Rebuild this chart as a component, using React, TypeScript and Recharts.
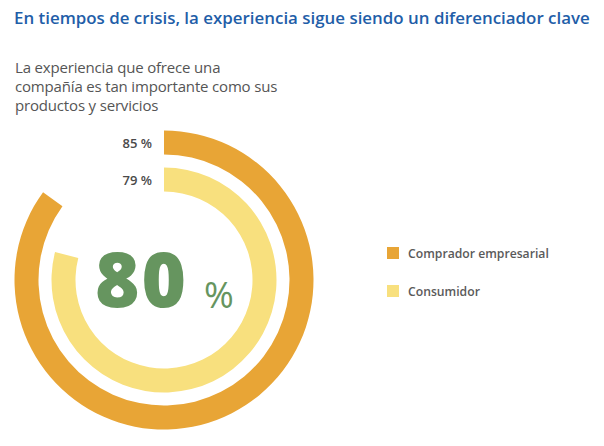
import React from 'react';
import { RadialBarChart, RadialBar, PolarAngleAxis, Cell, LabelList, Legend } from 'recharts';

// Values (inner ring first)
const segments = ['Consumidor', 'Comprador empresarial'];
const shares = [79, 85];
const colors = ['#F8E07E', '#E8A536'];
const legendOrder = ['Comprador empresarial', 'Consumidor'];
const headline = 80;

const data = segments.map((name, i) => ({ name, value: shares[i] }));

const FONT = '"Open Sans", "Noto Sans", sans-serif';

// label written just left of where each ring starts (12 o'clock)
const renderStartLabel = (props: any) => {
    const { viewBox, value } = props;
    if (!viewBox) return null;
    const r = (viewBox.innerRadius + viewBox.outerRadius) / 2;
    return (
        <text
            x={viewBox.cx - 12}
            y={viewBox.cy - r}
            textAnchor="end"
            dominantBaseline="central"
            fontFamily={FONT}
            fontWeight={600}
            fontSize={13}
            fill="#4a4a4a"
        >
            {value} %
        </text>
    );
};

const renderLegend = () => (
    <div style={{ fontFamily: FONT }}>
        {legendOrder.map((name) => {
            const idx = segments.indexOf(name);
            return (
                <div key={name} style={{ display: 'flex', alignItems: 'center', height: 38 }}>
                    <span style={{ width: 12, height: 12, background: colors[idx], marginRight: 9 }} />
                    <span style={{ fontSize: 12.2, fontWeight: 600, color: '#5a5a5a' }}>{name}</span>
                </div>
            );
        })}
    </div>
);

const App: React.FC = () => {
    return (
        <div style={{ position: 'absolute', left: 0, top: 0, width: 604, height: 446, background: '#fff', fontFamily: FONT }}>
            <div style={{ position: 'absolute', left: 14, top: 6, fontSize: 16.9, fontWeight: 600, color: '#1F5EA8', whiteSpace: 'nowrap' }}>
                En tiempos de crisis, la experiencia sigue siendo un diferenciador clave
            </div>
            <div style={{ position: 'absolute', left: 15, top: 58, fontSize: 15, lineHeight: '19px', letterSpacing: -0.17, color: '#555' }}>
                La experiencia que ofrece una<br />
                compañía es tan importante como sus<br />
                productos y servicios
            </div>

            <RadialBarChart
                width={604}
                height={446}
                cx={164}
                cy={280}
                innerRadius={81.5}
                outerRadius={155.5}
                startAngle={90}
                endAngle={-270}
                data={data}
                style={{ position: 'absolute', left: 0, top: 0 }}
            >
                <PolarAngleAxis type="number" domain={[0, 100]} tick={false} axisLine={false} />
                <RadialBar dataKey="value" barSize={24} isAnimationActive={false}>
                    {data.map((d, i) => (
                        <Cell key={d.name} fill={colors[i]} />
                    ))}
                    <LabelList dataKey="value" content={renderStartLabel} />
                </RadialBar>
                <Legend
                    content={renderLegend}
                    wrapperStyle={{ position: 'absolute', left: 387, top: 234, width: 200 }}
                />
            </RadialBarChart>

            <div style={{ position: 'absolute', left: 95, top: 226, fontSize: 76, fontWeight: 800, color: '#66955F', letterSpacing: 2 }}>
                {headline}
            </div>
            <div style={{ position: 'absolute', left: 204, top: 270, fontSize: 36, fontWeight: 400, color: '#66955F' }}>
                %
            </div>
        </div>
    );
};

export default App;
